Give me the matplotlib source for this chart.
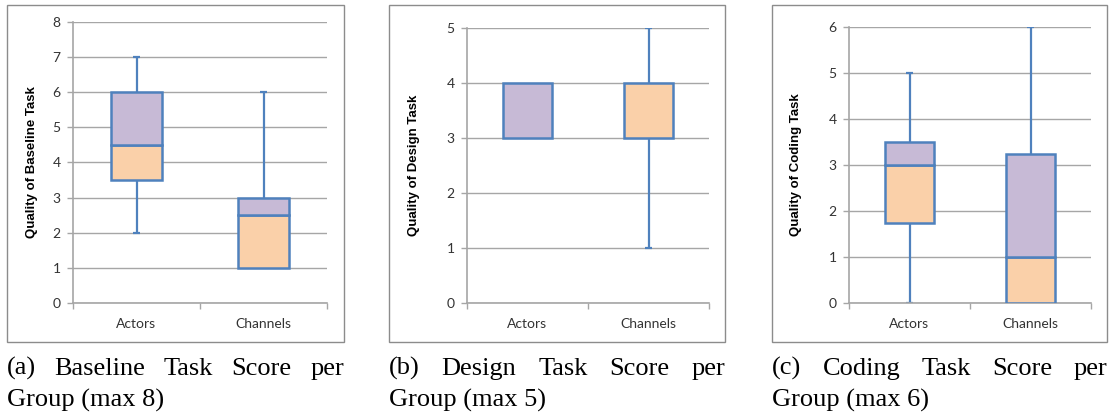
import matplotlib.pyplot as plt
from matplotlib.patches import Rectangle

# per group: min, Q1, median, Q3, max
groups = ['Actors', 'Channels']
baseline = [[2, 3.5, 4.5, 6, 7], [1, 1, 2.5, 3, 6]]
design = [[3, 3, 3, 4, 4], [1, 3, 4, 4, 5]]
coding = [[0, 1.75, 3, 3.5, 5], [0, 0, 1, 3.25, 6]]
panels = [baseline, design, coding]
y_max = [8, 5, 6]
y_labels = ['Quality of Baseline Task', 'Quality of Design Task', 'Quality of Coding Task']
caption_1 = ['(a) Baseline Task Score per', '(b) Design Task Score per', '(c) Coding Task Score per']
caption_2 = ['Group (max 8)', 'Group (max 5)', 'Group (max 6)']

W, H = 1111, 417
edge = '#4F81BD'
lower_col = '#FAD0A9'
upper_col = '#C7BAD6'
grid_col = '#A6A6A6'

# layout in pixels: axes (left, right, top), border box (left, right)
ax_px = [(73, 327, 22), (467, 709, 28), (849, 1091, 27)]
box_px = [(7, 344), (389, 725), (772, 1107)]
ylab_x = [-0.138, -0.194, -0.194]

fig = plt.figure(figsize=(W / 100, H / 100), dpi=100)

for i, data in enumerate(panels):
    l, r, t = ax_px[i]
    ax = fig.add_axes([l / W, (H - 303) / H, (r - l) / W, (303 - t) / H])
    pos = [0.5, 1.5]
    for p, (lo, q1, med, q3, hi) in zip(pos, data):
        if lo < q1:
            ax.vlines(p, lo, q1, color=edge, lw=1.6, zorder=2)
            ax.hlines(lo, p - 0.027, p + 0.027, color=edge, lw=1.6, zorder=2)
        if hi > q3:
            ax.vlines(p, q3, hi, color=edge, lw=1.6, zorder=2)
            ax.hlines(hi, p - 0.027, p + 0.027, color=edge, lw=1.6, zorder=2)
        if med > q1:
            ax.bar(p, med - q1, bottom=q1, width=0.4, color=lower_col,
                   edgecolor=edge, lw=1.8, zorder=3)
        if q3 > med:
            ax.bar(p, q3 - med, bottom=med, width=0.4, color=upper_col,
                   edgecolor=edge, lw=1.8, zorder=3)

    ax.set_xlim(0, 2)
    ax.set_ylim(0, y_max[i])
    ax.set_yticks(range(y_max[i] + 1))
    ax.set_xticks([0, 1, 2])
    ax.set_xticklabels([])
    ax.set_xticks(pos, minor=True)
    ax.set_xticklabels(groups, minor=True, fontsize=10, family='Lato', color='#333333')
    ax.tick_params(axis='x', which='minor', length=0, pad=11)
    ax.tick_params(axis='x', which='major', length=4, color=grid_col, width=1)
    ax.tick_params(axis='y', length=4, color=grid_col, width=1, labelsize=10,
                   labelcolor='#333333', pad=5)
    for lbl in ax.get_yticklabels():
        lbl.set_family('Lato')
    ax.grid(axis='y', color=grid_col, lw=1, zorder=0)
    ax.set_axisbelow(True)
    for s in ['top', 'right']:
        ax.spines[s].set_visible(False)
    for s in ['left', 'bottom']:
        ax.spines[s].set_color(grid_col)
        ax.spines[s].set_linewidth(1.2)
    ax.set_ylabel(y_labels[i], fontsize=9.5, fontweight='bold', family='Liberation Sans')
    ax.yaxis.set_label_coords(ylab_x[i], 0.5)

    bl, br = box_px[i]
    fig.add_artist(Rectangle((bl / W, 1 - 342 / H), (br - bl) / W, 337 / H,
                             transform=fig.transFigure, fill=False,
                             edgecolor='#8C8C8C', lw=1))

# captions, first line justified to the box width
renderer = fig.canvas.get_renderer()
for i in range(3):
    bl, br = box_px[i]
    words = caption_1[i].split()
    texts = [fig.text(0, 1 - 375 / H, w, fontsize=19, family='Liberation Serif',
                      va='baseline') for w in words]
    widths = [t.get_window_extent(renderer).width for t in texts]
    gap = (br - bl - sum(widths)) / (len(words) - 1)
    x = bl
    for t, w in zip(texts, widths):
        t.set_x(x / W)
        x += w + gap
    fig.text(bl / W, 1 - 407 / H, caption_2[i], fontsize=19,
             family='Liberation Serif', va='baseline')

fig.savefig('out.png', dpi=100)
